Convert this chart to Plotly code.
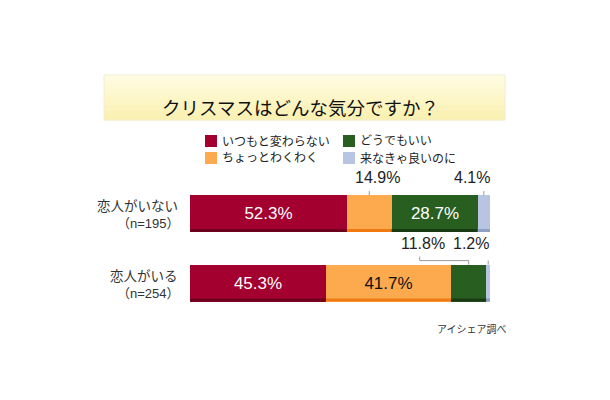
import plotly.graph_objects as go

# ---------------- data ----------------
title = "クリスマスはどんな気分ですか？"
series_names = ["いつもと変わらない", "ちょっとわくわく", "どうでもいい", "来なきゃ良いのに"]
groups = ["恋人がいない", "恋人がいる"]
group_n = ["（n=195）", "（n=254）"]
vals_no_partner = [52.3, 14.9, 28.7, 4.1]
vals_partner = [45.3, 41.7, 11.8, 1.2]
source = "アイシェア調べ"

# ---------------- style ----------------
colors = ["#A3002F", "#FDAA4E", "#285E1F", "#B7C5E2"]
edge_colors = ["#6E001E", "#F07A10", "#173A12", "#8FA0C4"]
inside_text_colors = ["white", "#111111", "white", "#111111"]
FONT = "Arial, 'Liberation Sans', 'Noto Sans CJK JP', sans-serif"
W, H = 610, 400
X0_PX, X1_PX = 190, 490          # bar plotting area (pixels)
Y_TOP_PX, Y_BOT_PX = 178.75, 317.75
UNIT_PX = (X1_PX - X0_PX) / 100.0
ROW_PX = (Y_BOT_PX - Y_TOP_PX) / 2.0
BAR_W = 0.53

rows = [vals_no_partner, vals_partner]

fig = go.Figure()
for s, name in enumerate(series_names):
    xs = [rows[r][s] for r in range(2)]
    txt = [f"{v:.1f}%" if v >= 20 else "" for v in xs]
    fig.add_trace(go.Bar(
        x=xs, y=[0, 1], orientation="h", name=name,
        marker=dict(color=colors[s], line=dict(width=0)),
        width=BAR_W, text=txt, textposition="inside",
        insidetextanchor="middle", textangle=0,
        textfont=dict(size=17, color=inside_text_colors[s], family=FONT),
        showlegend=False, hoverinfo="skip",
    ))

shapes = []
annotations = []

def ypx_to_data(dy_px):
    return dy_px / ROW_PX

# darker bottom edge on each segment (3D look)
for r in range(2):
    cum = 0
    for s, v in enumerate(rows[r]):
        shapes.append(dict(type="rect", xref="x", yref="y",
                           x0=cum, x1=cum + v,
                           y0=r + BAR_W / 2 - ypx_to_data(3), y1=r + BAR_W / 2,
                           fillcolor=edge_colors[s], line=dict(width=0), layer="above"))
        cum += v

# outside labels with leader lines
top_edge = lambda r: r - BAR_W / 2
# (row, series, label x-shift px, label y px above bar top, leader type)
outside = [
    (0, 1, 8, 18, "v"),
    (0, 3, -12, 18, "v"),
    (1, 2, -46, 21, "bracket"),
    (1, 3, -17, 21, "v"),
]
for r, s, dx, dy, kind in outside:
    v = rows[r][s]
    cum = sum(rows[r][:s])
    cx = cum + v / 2
    annotations.append(dict(
        x=cx, y=top_edge(r), xref="x", yref="y", text=f"{v:.1f}%",
        showarrow=False, xshift=dx, yshift=dy,
        font=dict(size=16, color="#222222", family=FONT),
    ))
    if kind == "v":
        shapes.append(dict(type="line", xref="x", yref="y",
                           x0=cx, x1=cx,
                           y0=top_edge(r) - ypx_to_data(4), y1=top_edge(r),
                           line=dict(color="#999999", width=1)))
    else:
        lx = cx + (dx - 3) / UNIT_PX
        y_a = top_edge(r) - ypx_to_data(8)
        y_b = top_edge(r) - ypx_to_data(4)
        shapes.append(dict(type="path", xref="x", yref="y",
                           path=f"M {lx},{y_a} L {lx},{y_b} L {cx},{y_b} L {cx},{top_edge(r)}",
                           line=dict(color="#999999", width=1)))

# group labels
for r in range(2):
    annotations.append(dict(x=0, y=r, xref="x", yref="y", text=groups[r],
                            showarrow=False, xanchor="right", xshift=-10, yshift=7,
                            font=dict(size=13.5, color="#333333", family=FONT)))
    annotations.append(dict(x=0, y=r, xref="x", yref="y", text=group_n[r],
                            showarrow=False, xanchor="right", xshift=-8, yshift=-10,
                            font=dict(size=13, color="#333333", family=FONT)))

# title box (vertical gradient approximated with bands)
box_x0, box_x1, box_y0, box_y1 = 104, 505, 75, 120
n_bands = 15
c_top = (255, 252, 226)
c_bot = (250, 240, 176)
band_h = (box_y1 - box_y0) / n_bands
for i in range(n_bands):
    t = i / (n_bands - 1)
    c = tuple(round(c_top[k] + (c_bot[k] - c_top[k]) * t) for k in range(3))
    shapes.append(dict(type="rect", xref="paper", yref="paper",
                       x0=box_x0 / W, x1=box_x1 / W,
                       y0=1 - (box_y0 + (i + 1) * band_h + 0.5) / H,
                       y1=1 - (box_y0 + i * band_h) / H,
                       fillcolor="rgb(%d,%d,%d)" % c, line=dict(width=0), layer="below"))
shapes.append(dict(type="rect", xref="paper", yref="paper",
                   x0=box_x0 / W, x1=box_x1 / W, y0=1 - box_y1 / H, y1=1 - box_y0 / H,
                   fillcolor="rgba(0,0,0,0)", line=dict(color="#F1ECD2", width=1), layer="below"))
annotations.append(dict(x=300 / W, y=1 - 96 / H, xref="paper", yref="paper", text=title,
                        showarrow=False, font=dict(size=18.5, color="#111111", family=FONT)))

# manual legend (2x2)
leg_pos = [(205, 141), (205, 158), (343, 141), (343, 158)]
for s, name in enumerate(series_names):
    lx, ly = leg_pos[s]
    shapes.append(dict(type="rect", xref="paper", yref="paper",
                       x0=lx / W, x1=(lx + 12) / W, y0=1 - (ly + 6) / H, y1=1 - (ly - 6) / H,
                       fillcolor=colors[s], line=dict(width=0)))
    annotations.append(dict(x=(lx + 15) / W, y=1 - ly / H, xref="paper", yref="paper",
                            text=name, showarrow=False, xanchor="left",
                            font=dict(size=12, color="#222222", family=FONT)))

# source
annotations.append(dict(x=509 / W, y=1 - 337 / H, xref="paper", yref="paper", text=source,
                        showarrow=False, xanchor="right",
                        font=dict(size=10, color="#333333", family=FONT)))

fig.update_layout(
    width=W, height=H, barmode="stack", bargap=0,
    margin=dict(l=0, r=0, t=0, b=0),
    paper_bgcolor="white", plot_bgcolor="white",
    xaxis=dict(domain=[X0_PX / W, X1_PX / W], range=[0, 100], visible=False, fixedrange=True),
    yaxis=dict(domain=[1 - Y_BOT_PX / H, 1 - Y_TOP_PX / H], range=[1.5, -0.5],
               visible=False, fixedrange=True),
    shapes=shapes, annotations=annotations,
    uniformtext=dict(mode=False),
)

fig.write_html("out.html", config={"displayModeBar": False})
